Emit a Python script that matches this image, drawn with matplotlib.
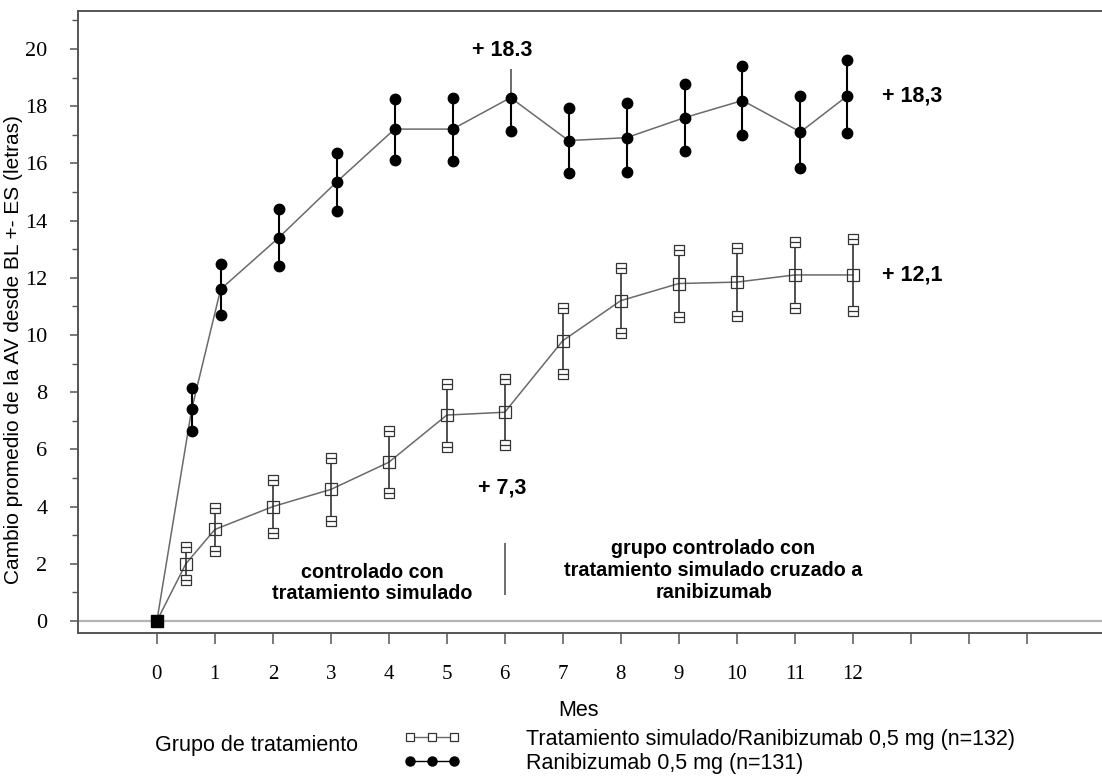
import numpy as np
import matplotlib
matplotlib.use("Agg")
import matplotlib.pyplot as plt
from matplotlib.lines import Line2D
from matplotlib.ticker import MultipleLocator

# -------------------------
# Data
# -------------------------
months_rani = [0, 0.6, 1.1, 2.1, 3.1, 4.1, 5.1, 6.1, 7.1, 8.1, 9.1, 10.1, 11.1, 11.9]
mean_rani = [0, 7.4, 11.6, 13.4, 15.35, 17.2, 17.2, 18.3, 16.8, 16.9, 17.6, 18.2, 17.1, 18.35]
se_rani = [0, 0.75, 0.9, 1.0, 1.03, 1.07, 1.1, 1.15, 1.14, 1.2, 1.17, 1.2, 1.25, 1.28]

months_sham = [0, 0.5, 1, 2, 3, 4, 5, 6, 7, 8, 9, 10, 11, 12]
mean_sham = [0, 2.0, 3.2, 4.0, 4.6, 5.55, 7.2, 7.3, 9.8, 11.2, 11.8, 11.85, 12.1, 12.1]
se_sham = [0, 0.57, 0.76, 0.93, 1.1, 1.08, 1.1, 1.15, 1.15, 1.13, 1.18, 1.18, 1.15, 1.26]

x_ticks = list(range(0, 16))
x_ticklabels = [str(m) for m in range(0, 13)] + ["", "", ""]
y_ticks = list(range(0, 21, 2))

label_sham = "Tratamiento simulado/Ranibizumab 0,5 mg (n=132)"
label_rani = "Ranibizumab 0,5 mg (n=131)"

SANS = "Liberation Sans"
SERIF = "Liberation Serif"
LINE_GRAY = "#6a6a6a"
DARK = "#222222"
W, H = 1102, 784


def main() -> None:
    fig = plt.figure(figsize=(W / 100, H / 100), dpi=100)
    ax = fig.add_axes([78 / W, 151 / H, 1 - 78 / W, (633 - 11) / H])

    ax.set_xlim(-1.36, 16.3)
    ax.set_ylim(-0.42, 21.33)

    # zero reference line
    ax.axhline(0, color="#b5b5b5", lw=1.6, zorder=1)

    # ---- sham / crossover group (open squares)
    ms, ss = np.array(mean_sham), np.array(se_sham)
    ax.plot(months_sham, ms, color=LINE_GRAY, lw=1.1, zorder=2)
    ax.vlines(months_sham[1:], (ms - ss)[1:], (ms + ss)[1:], color=DARK, lw=1.1, zorder=3)
    caps_x = months_sham[1:] * 2
    caps_y = np.concatenate([(ms - ss)[1:], (ms + ss)[1:]])
    ax.plot(caps_x, caps_y, ls="none", marker="s", ms=7, mfc="white", mec="#333333", mew=0.9, zorder=4)
    ax.plot(caps_x, caps_y, ls="none", marker="_", ms=7, mec="#333333", mew=0.9, zorder=5)
    ax.plot(months_sham[1:], ms[1:], ls="none", marker="s", ms=8, mfc="none", mec="#333333", mew=0.9, zorder=4)

    # ---- ranibizumab group (filled dots)
    mr, sr = np.array(mean_rani), np.array(se_rani)
    ax.plot(months_rani, mr, color=LINE_GRAY, lw=1.1, zorder=2)
    peak = int(np.argmax(mr[:8]))
    low = mr - sr
    up = mr + sr
    ax.vlines(months_rani[1:], low[1:], np.where(np.arange(len(mr)) == peak, mr, up)[1:],
              color="black", lw=1.5, zorder=3)
    up_x = [m for i, m in enumerate(months_rani[1:], 1) if i != peak]
    up_y = [up[i] for i in range(1, len(mr)) if i != peak]
    ax.plot(months_rani[1:], low[1:], ls="none", marker="o", ms=7.5, color="black", zorder=5)
    ax.plot(up_x, up_y, ls="none", marker="o", ms=7.5, color="black", zorder=5)
    ax.plot(months_rani, mr, ls="none", marker="o", ms=7.5, color="black", zorder=5)
    ax.plot([0], [0], ls="none", marker="s", ms=9, color="black", zorder=6)

    # ---- annotations
    bold = dict(fontweight="bold", family=SANS)
    ax.vlines([months_rani[peak]], mr[peak], 19.3, color="#444444", lw=1.1, zorder=3)
    ax.text(months_rani[peak] - 0.14, 19.95, "+ 18.3", ha="center", va="center", fontsize=15.5, **bold)
    ax.text(12.5, mean_rani[-1], "+ 18,3", ha="left", va="center", fontsize=15.5, **bold)
    ax.text(12.5, mean_sham[-1], "+ 12,1", ha="left", va="center", fontsize=15.5, **bold)
    ax.text(5.95, 4.65, "+ 7,3", ha="center", va="center", fontsize=15.5, **bold)
    ax.text(3.72, 1.33, "controlado con\ntratamiento simulado", ha="center", va="center",
            fontsize=14.2, linespacing=1.18, **bold)
    ax.text(9.6, 1.75, "grupo controlado con\ntratamiento simulado cruzado a\nranibizumab",
            ha="center", va="center", fontsize=14.2, linespacing=1.2, **bold)
    ax.vlines([6.0], 0.9, 2.73, color="#555555", lw=1.2)

    # ---- axes styling
    for side in ("left", "bottom", "top"):
        ax.spines[side].set_color("#555555")
        ax.spines[side].set_linewidth(1.4)
    ax.spines["right"].set_visible(False)

    ax.set_xticks(x_ticks)
    ax.set_xticklabels(x_ticklabels, family=SERIF, fontsize=15)
    ax.set_yticks(y_ticks)
    ax.set_yticklabels([str(v) for v in y_ticks], family=SERIF, fontsize=16)
    ax.yaxis.set_minor_locator(MultipleLocator(1))
    ax.tick_params(axis="x", direction="out", length=8, width=1.1, color="#555555", pad=15)
    ax.tick_params(axis="y", which="major", direction="out", length=6, width=1.1, color="#555555", pad=16)
    ax.tick_params(axis="y", which="minor", direction="out", length=4, width=1.0, color="#555555")

    ax.set_ylabel("Cambio promedio de la AV desde BL +- ES (letras)", family=SANS, fontsize=15)
    ax.yaxis.set_label_coords((23 - 78) / 1024, (633 - 350) / 622)
    ax.set_xlabel("Mes", family=SANS, fontsize=15.5)
    ax.xaxis.set_label_coords((579 - 78) / 1024, (633 - 700) / 622)

    # ---- legend below the axes
    fig.text(155 / W, 1 - 746 / H, "Grupo de tratamiento", family=SANS, fontsize=15.5,
             ha="left", va="center")
    handles = [
        Line2D([], [], color=LINE_GRAY, lw=1, marker="s", ms=6, mfc="white", mec="#333333", mew=0.9),
        Line2D([], [], color="black", lw=1, marker="o", ms=6.5, mfc="black", mec="black"),
    ]
    fig.legend(handles, [label_sham, label_rani], loc="upper left",
               bbox_to_anchor=(404 / W, 1 - 729 / H), frameon=False, numpoints=3,
               handlelength=2.6, handletextpad=3.05, labelspacing=0.12, borderpad=0,
               borderaxespad=0, prop={"family": SANS, "size": 15.5})

    fig.savefig("out.png", dpi=100)
    plt.close(fig)


if __name__ == "__main__":
    main()
